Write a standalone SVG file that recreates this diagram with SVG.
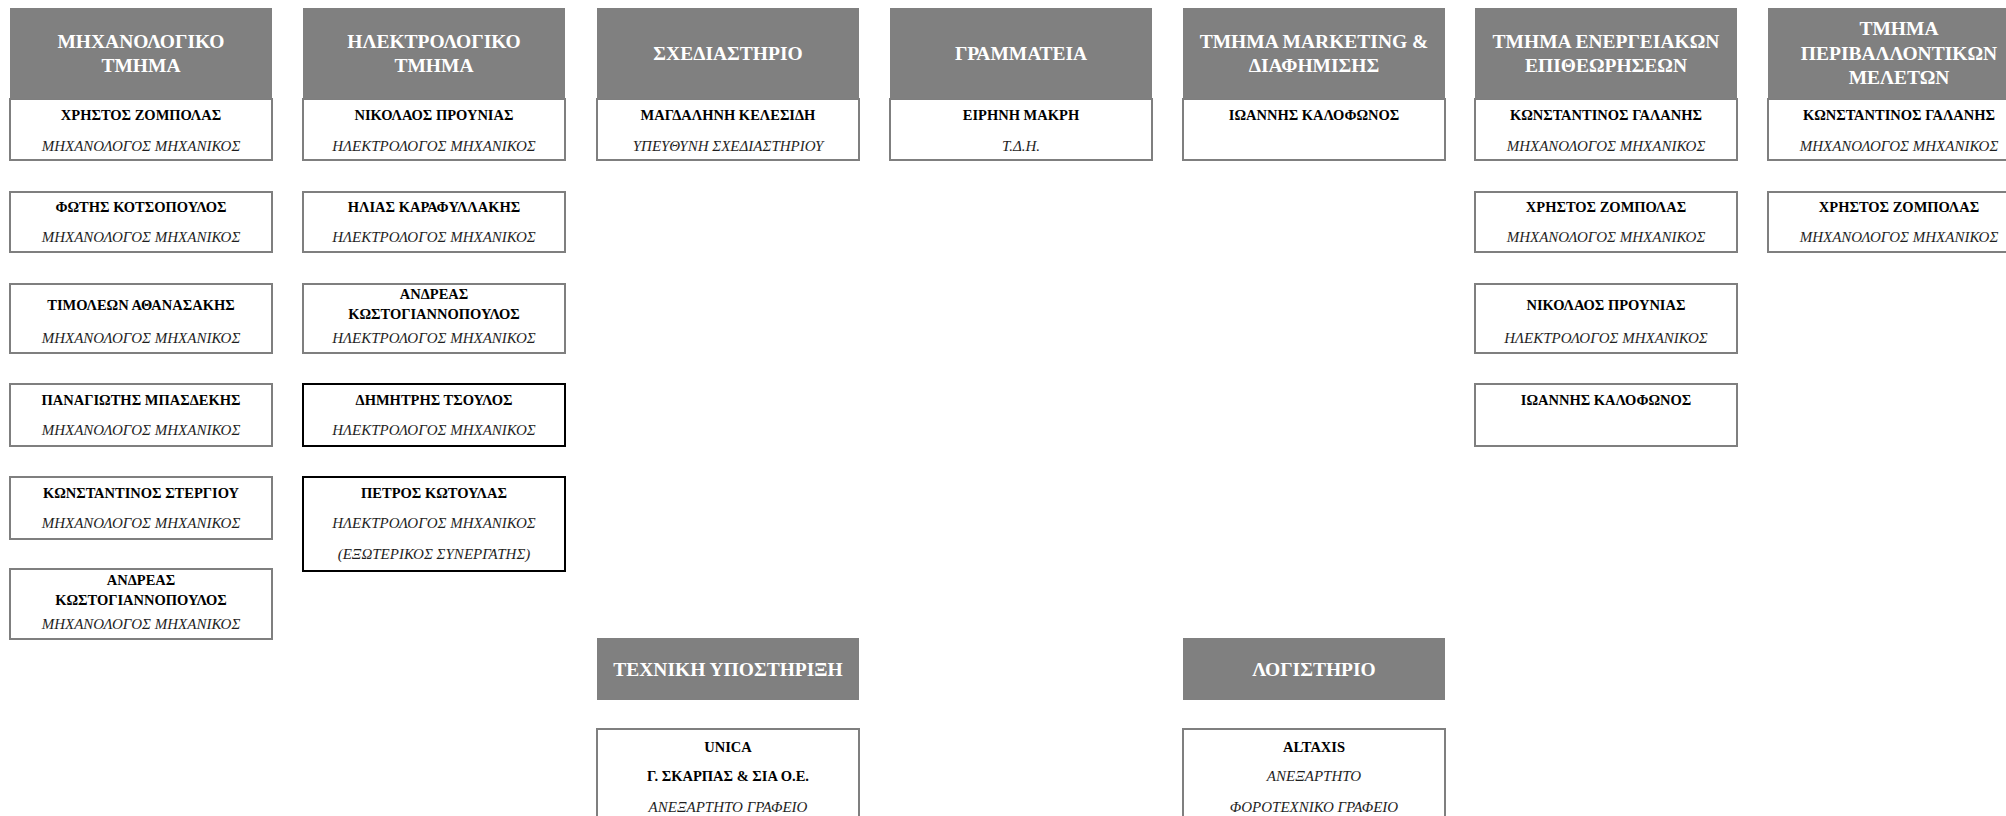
<svg xmlns="http://www.w3.org/2000/svg" width="2006" height="816" viewBox="0 0 2006 816">
<style>
.hd{fill:#808080}
.bx{fill:#fff;stroke:#7f7f7f;stroke-width:2}
.bk{fill:#fff;stroke:#000;stroke-width:2}
.ht{font-family:"Liberation Serif",serif;font-weight:bold;font-size:19.5px;fill:#fff;text-anchor:middle}
.nm{font-family:"Liberation Serif",serif;font-weight:bold;font-size:14.5px;fill:#000;text-anchor:middle}
.sb{font-family:"Liberation Serif",serif;font-style:italic;font-size:15px;fill:#1e1e1e;text-anchor:middle}
</style>
<rect width="2006" height="816" fill="#fff"/>
<g id="connectors"/>

<!-- Column 1 -->
<g id="mech">
<rect class="bx" x="10" y="99" width="262" height="61"/>
<rect class="hd" x="10" y="8" width="262" height="91"/>
<text class="ht" x="141" y="48">ΜΗΧΑΝΟΛΟΓΙΚΟ</text>
<text class="ht" x="141" y="72">ΤΜΗΜΑ</text>
<text class="nm" x="141" y="120">ΧΡΗΣΤΟΣ ΖΟΜΠΟΛΑΣ</text>
<text class="sb" x="141" y="151">ΜΗΧΑΝΟΛΟΓΟΣ ΜΗΧΑΝΙΚΟΣ</text>
</g>
<g id="mech-2">
<rect class="bx" x="10" y="192" width="262" height="60"/>
<text class="nm" x="141" y="212">ΦΩΤΗΣ ΚΟΤΣΟΠΟΥΛΟΣ</text>
<text class="sb" x="141" y="242">ΜΗΧΑΝΟΛΟΓΟΣ ΜΗΧΑΝΙΚΟΣ</text>
</g>
<g id="mech-3">
<rect class="bx" x="10" y="284" width="262" height="69"/>
<text class="nm" x="141" y="310">ΤΙΜΟΛΕΩΝ ΑΘΑΝΑΣΑΚΗΣ</text>
<text class="sb" x="141" y="343">ΜΗΧΑΝΟΛΟΓΟΣ ΜΗΧΑΝΙΚΟΣ</text>
</g>
<g id="mech-4">
<rect class="bx" x="10" y="384" width="262" height="62"/>
<text class="nm" x="141" y="405">ΠΑΝΑΓΙΩΤΗΣ ΜΠΑΣΔΕΚΗΣ</text>
<text class="sb" x="141" y="435">ΜΗΧΑΝΟΛΟΓΟΣ ΜΗΧΑΝΙΚΟΣ</text>
</g>
<g id="mech-5">
<rect class="bx" x="10" y="477" width="262" height="62"/>
<text class="nm" x="141" y="498">ΚΩΝΣΤΑΝΤΙΝΟΣ ΣΤΕΡΓΙΟΥ</text>
<text class="sb" x="141" y="528">ΜΗΧΑΝΟΛΟΓΟΣ ΜΗΧΑΝΙΚΟΣ</text>
</g>
<g id="mech-6">
<rect class="bx" x="10" y="569" width="262" height="70"/>
<text class="nm" x="141" y="585">ΑΝΔΡΕΑΣ</text>
<text class="nm" x="141" y="605">ΚΩΣΤΟΓΙΑΝΝΟΠΟΥΛΟΣ</text>
<text class="sb" x="141" y="629">ΜΗΧΑΝΟΛΟΓΟΣ ΜΗΧΑΝΙΚΟΣ</text>
</g>

<!-- Column 2 -->
<g id="elec">
<rect class="bx" x="303" y="99" width="262" height="61"/>
<rect class="hd" x="303" y="8" width="262" height="91"/>
<text class="ht" x="434" y="48">ΗΛΕΚΤΡΟΛΟΓΙΚΟ</text>
<text class="ht" x="434" y="72">ΤΜΗΜΑ</text>
<text class="nm" x="434" y="120">ΝΙΚΟΛΑΟΣ ΠΡΟΥΝΙΑΣ</text>
<text class="sb" x="434" y="151">ΗΛΕΚΤΡΟΛΟΓΟΣ ΜΗΧΑΝΙΚΟΣ</text>
</g>
<g id="elec-2">
<rect class="bx" x="303" y="192" width="262" height="60"/>
<text class="nm" x="434" y="212">ΗΛΙΑΣ ΚΑΡΑΦΥΛΛΑΚΗΣ</text>
<text class="sb" x="434" y="242">ΗΛΕΚΤΡΟΛΟΓΟΣ ΜΗΧΑΝΙΚΟΣ</text>
</g>
<g id="elec-3">
<rect class="bx" x="303" y="284" width="262" height="69"/>
<text class="nm" x="434" y="299">ΑΝΔΡΕΑΣ</text>
<text class="nm" x="434" y="319">ΚΩΣΤΟΓΙΑΝΝΟΠΟΥΛΟΣ</text>
<text class="sb" x="434" y="343">ΗΛΕΚΤΡΟΛΟΓΟΣ ΜΗΧΑΝΙΚΟΣ</text>
</g>
<g id="elec-4">
<rect class="bk" x="303" y="384" width="262" height="62"/>
<text class="nm" x="434" y="405">ΔΗΜΗΤΡΗΣ ΤΣΟΥΛΟΣ</text>
<text class="sb" x="434" y="435">ΗΛΕΚΤΡΟΛΟΓΟΣ ΜΗΧΑΝΙΚΟΣ</text>
</g>
<g id="elec-5">
<rect class="bk" x="303" y="477" width="262" height="94"/>
<text class="nm" x="434" y="498">ΠΕΤΡΟΣ ΚΩΤΟΥΛΑΣ</text>
<text class="sb" x="434" y="528">ΗΛΕΚΤΡΟΛΟΓΟΣ ΜΗΧΑΝΙΚΟΣ</text>
<text class="sb" x="434" y="559">(ΕΞΩΤΕΡΙΚΟΣ ΣΥΝΕΡΓΑΤΗΣ)</text>
</g>

<!-- Column 3 -->
<g id="design">
<rect class="bx" x="597" y="99" width="262" height="61"/>
<rect class="hd" x="597" y="8" width="262" height="91"/>
<text class="ht" x="728" y="60">ΣΧΕΔΙΑΣΤΗΡΙΟ</text>
<text class="nm" x="728" y="120">ΜΑΓΔΑΛΗΝΗ ΚΕΛΕΣΙΔΗ</text>
<text class="sb" x="728" y="151">ΥΠΕΥΘΥΝΗ ΣΧΕΔΙΑΣΤΗΡΙΟΥ</text>
</g>

<!-- Column 4 -->
<g id="secretariat">
<rect class="bx" x="890" y="99" width="262" height="61"/>
<rect class="hd" x="890" y="8" width="262" height="91"/>
<text class="ht" x="1021" y="60">ΓΡΑΜΜΑΤΕΙΑ</text>
<text class="nm" x="1021" y="120">ΕΙΡΗΝΗ ΜΑΚΡΗ</text>
<text class="sb" x="1021" y="151">Τ.Δ.Η.</text>
</g>

<!-- Column 5 -->
<g id="marketing">
<rect class="bx" x="1183" y="99" width="262" height="61"/>
<rect class="hd" x="1183" y="8" width="262" height="91"/>
<text class="ht" x="1314" y="48">ΤΜΗΜΑ MARKETING &amp;</text>
<text class="ht" x="1314" y="72">ΔΙΑΦΗΜΙΣΗΣ</text>
<text class="nm" x="1314" y="120">ΙΩΑΝΝΗΣ ΚΑΛΟΦΩΝΟΣ</text>
</g>

<!-- Column 6 -->
<g id="energy">
<rect class="bx" x="1475" y="99" width="262" height="61"/>
<rect class="hd" x="1475" y="8" width="262" height="91"/>
<text class="ht" x="1606" y="48">ΤΜΗΜΑ ΕΝΕΡΓΕΙΑΚΩΝ</text>
<text class="ht" x="1606" y="72">ΕΠΙΘΕΩΡΗΣΕΩΝ</text>
<text class="nm" x="1606" y="120">ΚΩΝΣΤΑΝΤΙΝΟΣ ΓΑΛΑΝΗΣ</text>
<text class="sb" x="1606" y="151">ΜΗΧΑΝΟΛΟΓΟΣ ΜΗΧΑΝΙΚΟΣ</text>
</g>
<g id="energy-2">
<rect class="bx" x="1475" y="192" width="262" height="60"/>
<text class="nm" x="1606" y="212">ΧΡΗΣΤΟΣ ΖΟΜΠΟΛΑΣ</text>
<text class="sb" x="1606" y="242">ΜΗΧΑΝΟΛΟΓΟΣ ΜΗΧΑΝΙΚΟΣ</text>
</g>
<g id="energy-3">
<rect class="bx" x="1475" y="284" width="262" height="69"/>
<text class="nm" x="1606" y="310">ΝΙΚΟΛΑΟΣ ΠΡΟΥΝΙΑΣ</text>
<text class="sb" x="1606" y="343">ΗΛΕΚΤΡΟΛΟΓΟΣ ΜΗΧΑΝΙΚΟΣ</text>
</g>
<g id="energy-4">
<rect class="bx" x="1475" y="384" width="262" height="62"/>
<text class="nm" x="1606" y="405">ΙΩΑΝΝΗΣ ΚΑΛΟΦΩΝΟΣ</text>
</g>

<!-- Column 7 -->
<g id="environment">
<rect class="bx" x="1768" y="99" width="262" height="61"/>
<rect class="hd" x="1768" y="8" width="262" height="91"/>
<text class="ht" x="1899" y="35">ΤΜΗΜΑ</text>
<text class="ht" x="1899" y="60">ΠΕΡΙΒΑΛΛΟΝΤΙΚΩΝ</text>
<text class="ht" x="1899" y="84">ΜΕΛΕΤΩΝ</text>
<text class="nm" x="1899" y="120">ΚΩΝΣΤΑΝΤΙΝΟΣ ΓΑΛΑΝΗΣ</text>
<text class="sb" x="1899" y="151">ΜΗΧΑΝΟΛΟΓΟΣ ΜΗΧΑΝΙΚΟΣ</text>
</g>
<g id="environment-2">
<rect class="bx" x="1768" y="192" width="262" height="60"/>
<text class="nm" x="1899" y="212">ΧΡΗΣΤΟΣ ΖΟΜΠΟΛΑΣ</text>
<text class="sb" x="1899" y="242">ΜΗΧΑΝΟΛΟΓΟΣ ΜΗΧΑΝΙΚΟΣ</text>
</g>

<!-- Bottom -->
<g id="tech-support">
<rect class="hd" x="597" y="638" width="262" height="62"/>
<text class="ht" x="728" y="676">ΤΕΧΝΙΚΗ ΥΠΟΣΤΗΡΙΞΗ</text>
</g>
<g id="unica">
<rect class="bx" x="597" y="729" width="262" height="110"/>
<text class="nm" x="728" y="752">UNICA</text>
<text class="nm" x="728" y="781">Γ. ΣΚΑΡΠΑΣ &amp; ΣΙΑ Ο.Ε.</text>
<text class="sb" x="728" y="812">ΑΝΕΞΑΡΤΗΤΟ ΓΡΑΦΕΙΟ</text>
</g>
<g id="accounting">
<rect class="hd" x="1183" y="638" width="262" height="62"/>
<text class="ht" x="1314" y="676">ΛΟΓΙΣΤΗΡΙΟ</text>
</g>
<g id="altaxis">
<rect class="bx" x="1183" y="729" width="262" height="110"/>
<text class="nm" x="1314" y="752">ALTAXIS</text>
<text class="sb" x="1314" y="781">ΑΝΕΞΑΡΤΗΤΟ</text>
<text class="sb" x="1314" y="812">ΦΟΡΟΤΕΧΝΙΚΟ ΓΡΑΦΕΙΟ</text>
</g>
</svg>
